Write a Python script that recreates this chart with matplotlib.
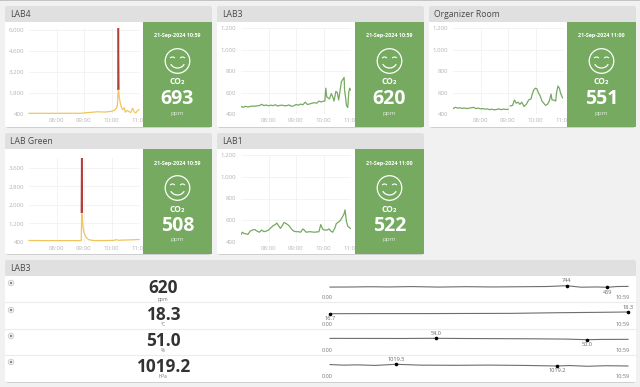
import matplotlib
matplotlib.use('Agg')
import matplotlib.pyplot as plt
from matplotlib.patches import Circle, Arc, FancyBboxPatch, Rectangle
import numpy as np

plt.rcParams['font.family'] = ['Open Sans', 'DejaVu Sans']

# tick labels
hour_pos = [60, 120, 180, 240]
hour_labels = ['08:00', '09:00', '10:00', '11:00']

# LAB4
lab4_t = [0, 30, 60, 90, 115, 120, 125, 135, 150, 165, 178, 186, 191, 193, 194, 195, 196, 197, 199, 202, 205, 208, 210, 214, 218, 222, 226, 230, 233, 236, 240]
lab4_v = [445, 445, 445, 448, 450, 470, 490, 510, 550, 530, 570, 630, 800, 1000, 1700, 6200, 1800, 1500, 1150, 800, 700, 820, 520, 640, 560, 500, 780, 520, 480, 600, 693]
lab4_ticks = [400, 1800, 3200, 4600, 6000]

# LAB3
lab3_t = list(range(0, 181, 5)) + [183, 185, 187, 190, 193, 197, 200, 203, 207, 210, 213, 217, 219, 222, 225, 226, 228, 230, 233, 235, 237, 240]
lab3_v = [470, 462, 472, 465, 470, 474, 472, 476, 478, 490, 478, 484, 476, 482, 478, 486, 474, 480, 482, 476, 478, 484, 472, 476, 488, 482, 492, 486, 510, 488, 494, 500, 506, 500, 520, 512, 520,
          520, 640, 560, 550, 540, 590, 560, 520, 610, 600, 530, 640, 700, 720, 740, 620, 560, 480, 460, 600, 640, 620]
lab3_ticks = [400, 600, 800, 1000, 1200]

# Organizer Room (gap just after 09:00)
org_t = list(range(0, 121, 5)) + [122, 125, 130, 134, 138, 142, 146, 150, 155, 160, 165, 170, 174, 177, 180, 183, 186, 190, 194, 198, 202, 206, 210, 214, 216, 220, 224, 226, 229, 232, 235, 239]
org_v = [450, 462, 455, 458, 452, 456, 450, 454, 458, 462, 450, 455, 448, 450, 445, 448, 440, 445, 438, 442, 448, 440, 446, 442, 444,
         np.nan, 475, 480, 530, 500, 510, 490, 510, 470, 490, 530, 540, 600, 630, 640, 635, 600, 570, 520, 500, 480, 490, 520, 585, 530, 530, 520, 600, 660, 640, 590, 551]

# LAB Green
green_t = [0, 30, 60, 90, 112, 114, 115, 116, 118, 120, 124, 130, 140, 160, 185, 190, 195, 210, 225, 240]
green_v = [465, 460, 460, 460, 460, 470, 4040, 1500, 1000, 800, 620, 500, 465, 460, 470, 500, 475, 485, 495, 508]
green_ticks = [400, 1200, 2000, 2800, 3600]

# LAB1
lab1_t = [0, 3, 6, 10, 15, 20, 25, 30, 35, 40, 45, 50, 55, 60, 65, 70, 75, 78, 82, 86, 90, 94, 100, 105, 110, 115, 120, 125, 130, 135, 138, 142, 150, 160, 170, 174, 178, 182, 188, 192, 196, 200, 205, 208, 215, 220, 225, 227, 230, 233, 237, 240]
lab1_v = [470, 490, 480, 475, 470, 500, 510, 515, 500, 490, 510, 495, 500, 510, 530, 550, 560, 575, 550, 525, 550, 580, 565, 550, 520, 500, 495, 495, 490, 520, 510, 490, 495, 490, 495, 560, 520, 510, 510, 520, 500, 490, 530, 570, 590, 620, 660, 695, 590, 545, 530, 522]

# cards
cards = ['LAB4', 'LAB3', 'Organizer Room', 'LAB Green', 'LAB1']
dates = ['21-Sep-2024 10:59', '21-Sep-2024 10:59', '21-Sep-2024 11:00', '21-Sep-2024 10:59', '21-Sep-2024 11:00']
co2_now = ['693', '620', '551', '508', '522']

# bottom table
table_names = ['CO2', 'Temp', 'Hum', 'Press']
table_values = ['620', '18.3', '51.0', '1019.2']
table_units = ['ppm', '°C', '%', 'hPa']

spark_co2_t = [0, 40, 90, 130, 180, 240, 300, 360, 420, 480, 524, 555, 590, 613, 635, 659]
spark_co2_v = [500, 510, 560, 520, 590, 500, 570, 520, 560, 600, 744, 480, 520, 459, 600, 620]
spark_temp_t = [0, 100, 200, 300, 400, 500, 600, 659]
spark_temp_v = [16.7, 16.8, 16.8, 16.9, 17.0, 17.6, 18.0, 18.3]
spark_hum_t = [0, 80, 160, 234, 300, 380, 450, 520, 568, 600, 659]
spark_hum_v = [53.8, 53.6, 53.5, 54.0, 53.4, 53.0, 52.6, 51.8, 50.0, 50.8, 51.0]
spark_press_t = [0, 30, 60, 100, 146, 200, 280, 350, 430, 502, 530, 570, 610, 659]
spark_press_v = [1019.45, 1019.35, 1019.4, 1019.3, 1019.5, 1019.35, 1019.32, 1019.36, 1019.3, 1019.2, 1019.28, 1019.15, 1019.25, 1019.2]

BG = '#f1f1f1'
HEAD = '#e0e0e0'
GREEN = '#75aa60'
LINE_GREEN = '#75aa60'
YELLOW = '#f2c55c'
RED = '#b0403c'
TICK = '#b5b5b5'
W, H = 640, 387

fig = plt.figure(figsize=(6.4, 3.87), dpi=100, facecolor=BG)


def pix_axes(x0, y0, x1, y1, z):
    return fig.add_axes([x0 / W, 1 - y1 / H, (x1 - x0) / W, (y1 - y0) / H], zorder=z)


back = pix_axes(0, 0, W, H, 0)
back.set_xlim(0, W)
back.set_ylim(H, 0)
back.axis('off')
front = pix_axes(0, 0, W, H, 5)
front.set_xlim(0, W)
front.set_ylim(H, 0)
front.axis('off')
front.patch.set_alpha(0)

back.add_patch(Rectangle((0, 0), W, 1, fc='#c4c4c4', ec='none'))


def card(x0, y0, x1, y1, head_bottom, title, title_x):
    back.add_patch(FancyBboxPatch((x0 + 1, y0 + 2), x1 - x0 - 2, y1 - y0 - 1, boxstyle='round,pad=0,rounding_size=2', fc='#cfcfcf', ec='none'))
    back.add_patch(FancyBboxPatch((x0, y0), x1 - x0, y1 - y0, boxstyle='round,pad=0,rounding_size=2', fc='white', ec='none'))
    back.add_patch(FancyBboxPatch((x0, y0), x1 - x0, head_bottom - y0 + 2, boxstyle='round,pad=0,rounding_size=2', fc=HEAD, ec='none'))
    back.add_patch(Rectangle((x0, head_bottom - 2), x1 - x0, 2, fc=HEAD, ec='none'))
    back.add_patch(Rectangle((x0, head_bottom), x1 - x0, 4, fc='white', ec='none'))
    back.text(title_x, (y0 + head_bottom) / 2 + 0.5, title, fontsize=6.2, color='#4a4a4a', va='center', ha='left')


def smiley(cx, cy):
    front.add_patch(Circle((cx, cy), 12.3, fc='none', ec='white', lw=0.9))
    front.add_patch(Arc((cx, cy), 15, 14, theta1=25, theta2=155, ec='white', lw=0.9))
    front.add_patch(Arc((cx - 5, cy - 2), 5, 4, theta1=200, theta2=340, ec='white', lw=0.8))
    front.add_patch(Arc((cx + 5, cy - 2), 5, 4, theta1=200, theta2=340, ec='white', lw=0.8))


def co2_panel(x0, y0, date, value):
    cx = x0 + 34.5
    front.add_patch(Rectangle((x0, y0 + 16), 69, 105, fc=GREEN, ec='none'))
    front.text(cx, y0 + 30, date, color='white', fontsize=3.9, fontweight='bold', ha='center', va='center')
    smiley(cx, y0 + 55)
    front.text(cx, y0 + 76, 'CO₂', color='white', fontsize=6, fontweight='bold', ha='center', va='center')
    front.text(cx, y0 + 93, value, color='white', fontsize=14, fontweight='bold', ha='center', va='center')
    front.text(cx, y0 + 107, 'ppm', color='#dcebd5', fontsize=4.6, ha='center', va='center')


def line_chart(x0, ytop, ybottom, ticks, top_value, t, v, color, limit=None):
    ax = pix_axes(x0, ytop, x0 + 110, ybottom, 2)
    if limit is None:
        ax.plot(t, v, color=color, lw=0.9)
    else:
        # part over the limit is drawn red, the rest yellow
        red_line, = ax.plot(t, v, color=RED, lw=1.1)
        red_line.set_clip_path(Rectangle((0, limit), 240, top_value - limit, transform=ax.transData))
        ax.plot(t, np.minimum(v, limit), color=YELLOW, lw=0.9, clip_on=False)
    ax.set_xlim(0, 240)
    ax.set_ylim(ticks[0], top_value)
    ax.set_xticks(hour_pos, hour_labels)
    ax.set_yticks(ticks, [f'{i:,}' for i in ticks])
    ax.tick_params(length=0, labelsize=4.4, labelcolor=TICK, pad=3.2)
    ax.grid(color='#f1f1f1', lw=0.6)
    ax.set_axisbelow(True)
    ax.patch.set_alpha(0)
    for s in ax.spines.values():
        s.set_visible(False)
    for lab in ax.get_xticklabels():
        lab.set_clip_on(False)
    return ax


# five cards on top
card(5, 6, 212, 127, 22, cards[0], 10)
card(217, 6, 424, 127, 22, cards[1], 222)
card(429, 6, 636, 127, 22, cards[2], 434)
card(5, 133, 212, 254, 149, cards[3], 10)
card(217, 133, 424, 254, 149, cards[4], 222)

co2_panel(143, 6, dates[0], co2_now[0])
co2_panel(355, 6, dates[1], co2_now[1])
co2_panel(567, 6, dates[2], co2_now[2])
co2_panel(143, 133, dates[3], co2_now[3])
co2_panel(355, 133, dates[4], co2_now[4])

line_chart(29, 28, 114, lab4_ticks, 6000 + 2 * 1400 / 21, lab4_t, lab4_v, YELLOW, limit=2000)
line_chart(241, 28, 114, lab3_ticks, 1200, lab3_t, lab3_v, LINE_GREEN)
line_chart(453, 28, 114, lab3_ticks, 1200, org_t, org_v, LINE_GREEN)
line_chart(29, 158, 242, green_ticks, 4030, green_t, green_v, YELLOW, limit=1640)
line_chart(241, 155, 242, lab3_ticks, 1200, lab1_t, lab1_v, LINE_GREEN)

# bottom card
card(5, 260, 636, 382, 276, 'LAB3', 10)
for y in [302, 329, 355]:
    back.plot([5, 636], [y, y], color='#ececec', lw=0.8)

value_y = [288, 315, 341, 367]
unit_y = [299, 325, 351, 377]
for i in range(4):
    front.text(163, value_y[i], table_values[i], fontsize=12.4, fontweight='bold', color='#333333', ha='center', va='center')
    front.text(163, unit_y[i], table_units[i], fontsize=3.6, color='#777777', ha='center', va='center')
    front.add_patch(Circle((11, value_y[i] - 5), 2.8, fc='#f4f4f4', ec='#cccccc', lw=0.6))
    front.add_patch(Circle((11, value_y[i] - 5), 1.2, fc='#888888', ec='none'))

spark_rows = [
    (spark_co2_t, spark_co2_v, 280, 292, (-377, 1760), (524, 744, '744'), (613, 459, '459')),
    (spark_temp_t, spark_temp_v, 307, 319, (11.7, 23), (659, 18.3, '18.3'), (0, 16.7, '16.7')),
    (spark_hum_t, spark_hum_v, 333, 345, (34.8, 69.2), (234, 54.0, '54.0'), (568, 50.0, '50.0')),
    (spark_press_t, spark_press_v, 359, 371, (1018.32, 1020.43), (146, 1019.5, '1019.5'), (502, 1019.2, '1019.2')),
]
for t, v, y0, y1, lim, hi, lo in spark_rows:
    ax = pix_axes(330, y0, 628, y1, 3)
    ax.plot(t, v, color='#6e6e6e', lw=0.8, clip_on=False)
    ax.plot([hi[0], lo[0]], [hi[1], lo[1]], 'o', color='black', ms=2.6, mew=0, clip_on=False)
    ax.set_xlim(0, 659)
    ax.set_ylim(*lim)
    ax.axis('off')
    ax.annotate(hi[2], (hi[0], hi[1]), xytext=(0, 3.4), textcoords='offset points', fontsize=4.1, color='#666666', ha='center', va='center', annotation_clip=False)
    ax.annotate(lo[2], (lo[0], lo[1]), xytext=(0, -3.6), textcoords='offset points', fontsize=4.1, color='#666666', ha='center', va='center', annotation_clip=False)
    front.text(327.5, y1 + 5.5, '0:00', fontsize=4.1, color='#777777', ha='center', va='center')
    front.text(623, y1 + 5.5, '10:59', fontsize=4.1, color='#777777', ha='center', va='center')

fig.savefig('out.png', dpi=100, facecolor=BG)
